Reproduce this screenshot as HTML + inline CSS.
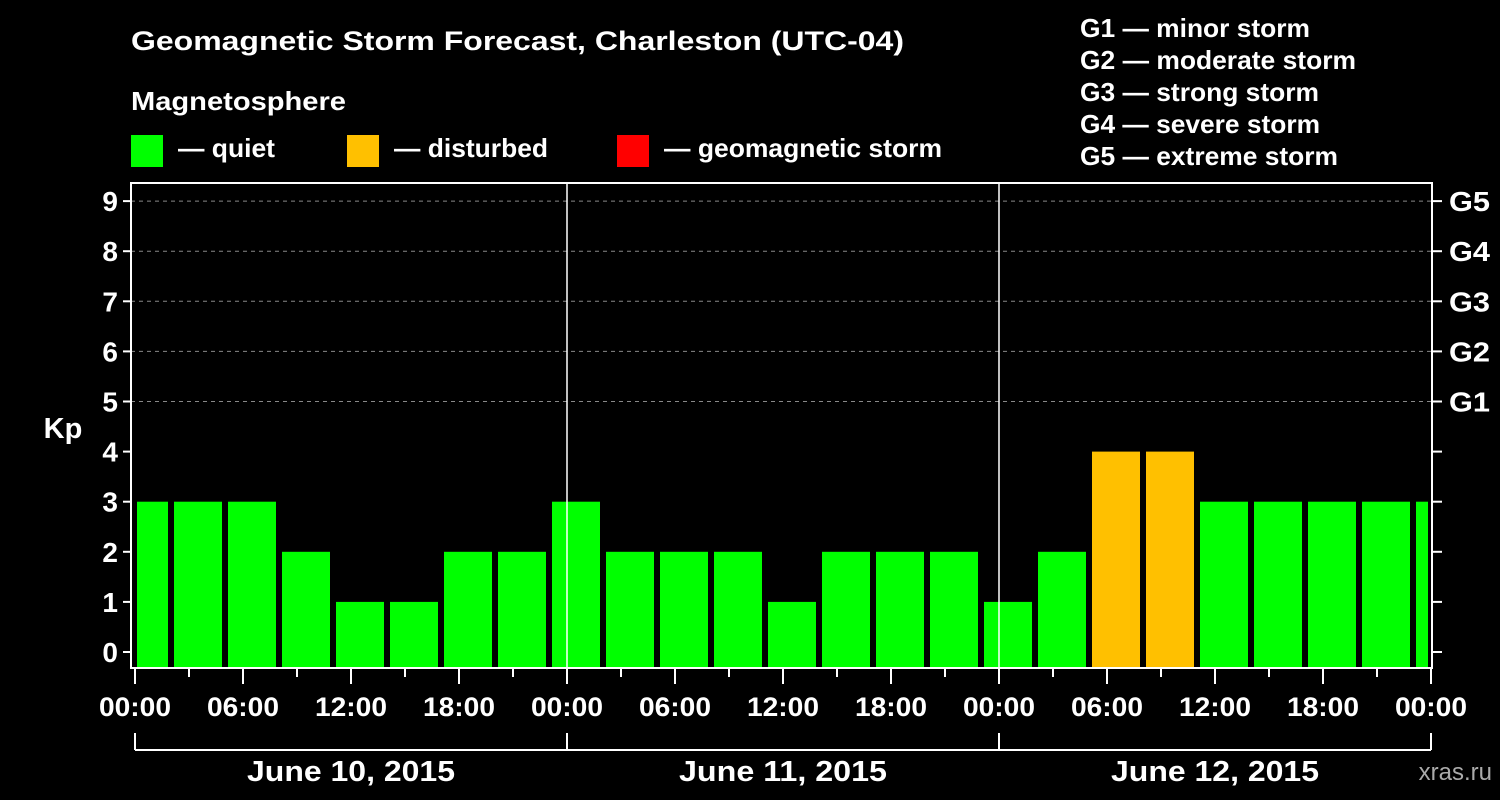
<!DOCTYPE html>
<html><head><meta charset="utf-8"><style>
html,body{margin:0;padding:0;background:#000;}
svg{display:block;font-family:"Liberation Sans",Arial,sans-serif;font-weight:bold;}
</style></head><body>
<svg id="chart" width="1500" height="800" viewBox="0 0 1500 800">
<rect width="1500" height="800" fill="#000"/>
<text x="131" y="50" fill="#fff" font-size="27" textLength="773" lengthAdjust="spacingAndGlyphs">Geomagnetic Storm Forecast, Charleston (UTC-04)</text>
<text x="131" y="110" fill="#fff" font-size="26" textLength="215" lengthAdjust="spacingAndGlyphs">Magnetosphere</text>
<g><rect x="131" y="135" width="32" height="32" fill="#00ff00"/><text x="178" y="157" fill="#fff" font-size="26" textLength="97" lengthAdjust="spacingAndGlyphs">— quiet</text></g>
<g><rect x="347" y="135" width="32" height="32" fill="#ffc000"/><text x="394" y="157" fill="#fff" font-size="26" textLength="154" lengthAdjust="spacingAndGlyphs">— disturbed</text></g>
<g><rect x="617" y="135" width="32" height="32" fill="#ff0000"/><text x="664" y="157" fill="#fff" font-size="26" textLength="278" lengthAdjust="spacingAndGlyphs">— geomagnetic storm</text></g>
<g fill="#fff" font-size="26" lengthAdjust="spacingAndGlyphs">
<text x="1080" y="37" textLength="230" lengthAdjust="spacingAndGlyphs">G1 — minor storm</text>
<text x="1080" y="69" textLength="276" lengthAdjust="spacingAndGlyphs">G2 — moderate storm</text>
<text x="1080" y="101" textLength="239" lengthAdjust="spacingAndGlyphs">G3 — strong storm</text>
<text x="1080" y="133" textLength="240" lengthAdjust="spacingAndGlyphs">G4 — severe storm</text>
<text x="1080" y="165" textLength="258" lengthAdjust="spacingAndGlyphs">G5 — extreme storm</text>
</g>
<text x="63" y="438" fill="#fff" font-size="29" text-anchor="middle">Kp</text>
<text x="1492" y="780" fill="#aaa" font-size="24" text-anchor="end" font-weight="normal">xras.ru</text>
<g id="marks"></g>
</svg>
<script>
const kpValues = [3,3,3,2,1,1,2,2,3,2,2,2,1,2,2,2,1,2,4,4,3,3,3,3,3];
const slotStartHours = [-1,2,5,8,11,14,17,20,23,26,29,32,35,38,41,44,47,50,53,56,59,62,65,68,71];
const yTicks = [0,1,2,3,4,5,6,7,8,9];
const gLabels = ["G1","G2","G3","G4","G5"];
const xTickLabels = ["00:00","06:00","12:00","18:00","00:00","06:00","12:00","18:00","00:00","06:00","12:00","18:00","00:00"];
const dayLabels = ["June 10, 2015","June 11, 2015","June 12, 2015"];

const NS="http://www.w3.org/2000/svg";
const g=document.getElementById('marks');
const L=131,R=1432,T=183,B=668;
const x=h=>135+h*18;
const y=v=>652-v*50.1;
function mk(t,a,p){const e=document.createElementNS(NS,t);for(const k in a)e.setAttribute(k,a[k]);(p||g).appendChild(e);return e;}
for(let v=5;v<=9;v++){const e=mk('line',{x1:L,x2:R,y1:y(v),y2:y(v),stroke:'#888','stroke-dasharray':'4,4'});

}
kpValues.forEach((v,i)=>{
 const s=Math.max(0,slotStartHours[i]),e2=Math.min(72,slotStartHours[i]+3);
 const x0=x(s)+(slotStartHours[i]<0?2:3), x1=x(e2)-3;
 const col=v>=5?'#ff0000':(v>=4?'#ffc000':'#00ff00');
 const r=mk('rect',{x:x0,y:y(v),width:Math.max(0,x1-x0),height:B-y(v),fill:col});
 
 
});
[24,48].forEach(h=>{const e=mk('line',{x1:x(h),x2:x(h),y1:T,y2:B,stroke:'#fff','stroke-width':1.5});

});
const f=mk('rect',{x:L,y:T,width:R-L,height:B-T,fill:'none',stroke:'#fff','stroke-width':2});


yTicks.forEach(v=>{
 mk('line',{x1:L-8,x2:L,y1:y(v),y2:y(v),stroke:'#fff','stroke-width':2});
 mk('line',{x1:R,x2:R+10,y1:y(v),y2:y(v),stroke:'#fff','stroke-width':2});
 const t=mk('text',{x:L-13,y:y(v)+10,fill:'#fff','font-size':28,'text-anchor':'end'});t.textContent=v;
 
 
});
gLabels.forEach((s,i)=>{const t=mk('text',{x:1449,y:y(5+i)+10,fill:'#fff','font-size':28,textLength:41,lengthAdjust:'spacingAndGlyphs'});t.textContent=s;

});
for(let h=0;h<=72;h+=3){const major=h%6===0;mk('line',{x1:x(h),x2:x(h),y1:B,y2:B+(major?16:9),stroke:'#fff','stroke-width':2});}
xTickLabels.forEach((s,i)=>{const t=mk('text',{x:x(i*6),y:716,fill:'#fff','font-size':27,'text-anchor':'middle',textLength:72,lengthAdjust:'spacingAndGlyphs'});t.textContent=s;

});
mk('line',{x1:x(0),x2:x(72),y1:750,y2:750,stroke:'#fff','stroke-width':2});
[0,24,48,72].forEach(h=>mk('line',{x1:x(h),x2:x(h),y1:733,y2:750,stroke:'#fff','stroke-width':2}));
dayLabels.forEach((s,i)=>{const t=mk('text',{x:x(i*24+12),y:781,fill:'#fff','font-size':29,'text-anchor':'middle',textLength:208,lengthAdjust:'spacingAndGlyphs'});t.textContent=s;

});
</script>
</body></html>
